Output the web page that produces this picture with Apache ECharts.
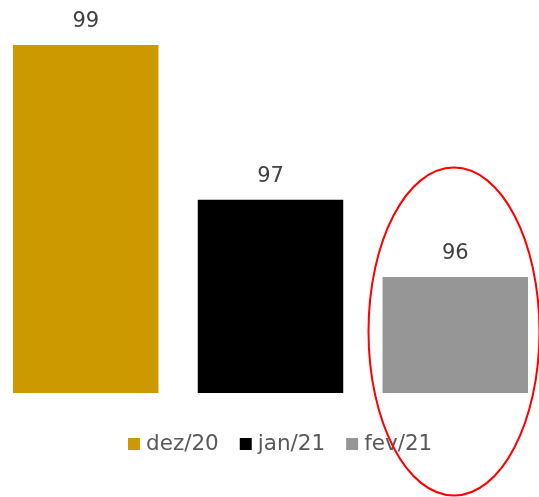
<!DOCTYPE html>
<html>
<head>
<meta charset="utf-8">
<script src="https://cdn.jsdelivr.net/npm/echarts@6/dist/echarts.min.js"></script>
<style>html,body{margin:0;padding:0;background:#fff}#c{width:539px;height:497px}</style>
</head>
<body>
<div id="c"></div>
<script>
const categories = [''];
const seriesNames = ['dez/20', 'jan/21', 'fev/21'];
const seriesValues = [[99], [97], [96]];
const colors = ['#CC9900', '#000000', '#969696'];

const chart = echarts.init(document.getElementById('c'));
chart.setOption({
  animation: false,
  grid: { left: 13, right: 11, top: 45, bottom: 104 },
  legend: {
    bottom: 42,
    left: 128,
    padding: 0,
    itemWidth: 12,
    itemHeight: 12,
    itemGap: 21,
    icon: 'rect',
    textStyle: { fontSize: 21.5, color: '#595959', fontFamily: 'DejaVu Sans', padding: [0, 0, 0, 1] },
    data: seriesNames
  },
  xAxis: {
    type: 'category',
    data: categories,
    axisLine: { show: false },
    axisTick: { show: false },
    axisLabel: { show: false }
  },
  yAxis: {
    type: 'value',
    min: 94.5,
    max: 99,
    show: false,
    splitLine: { show: false }
  },
  series: seriesNames.map((n, i) => ({
    name: n,
    type: 'bar',
    data: seriesValues[i],
    barGap: '27%',
    barCategoryGap: '0%',
    itemStyle: { color: colors[i] },
    label: {
      show: true,
      position: 'top',
      distance: 13,
      fontSize: 21,
      color: '#404040',
      fontFamily: 'DejaVu Sans'
    }
  })),
  graphic: [{
    type: 'ellipse',
    shape: { cx: 454, cy: 331.5, rx: 85.5, ry: 164 },
    style: { fill: 'none', stroke: '#FF0000', lineWidth: 2 },
    z: 100
  }]
});
</script>
</body>
</html>
